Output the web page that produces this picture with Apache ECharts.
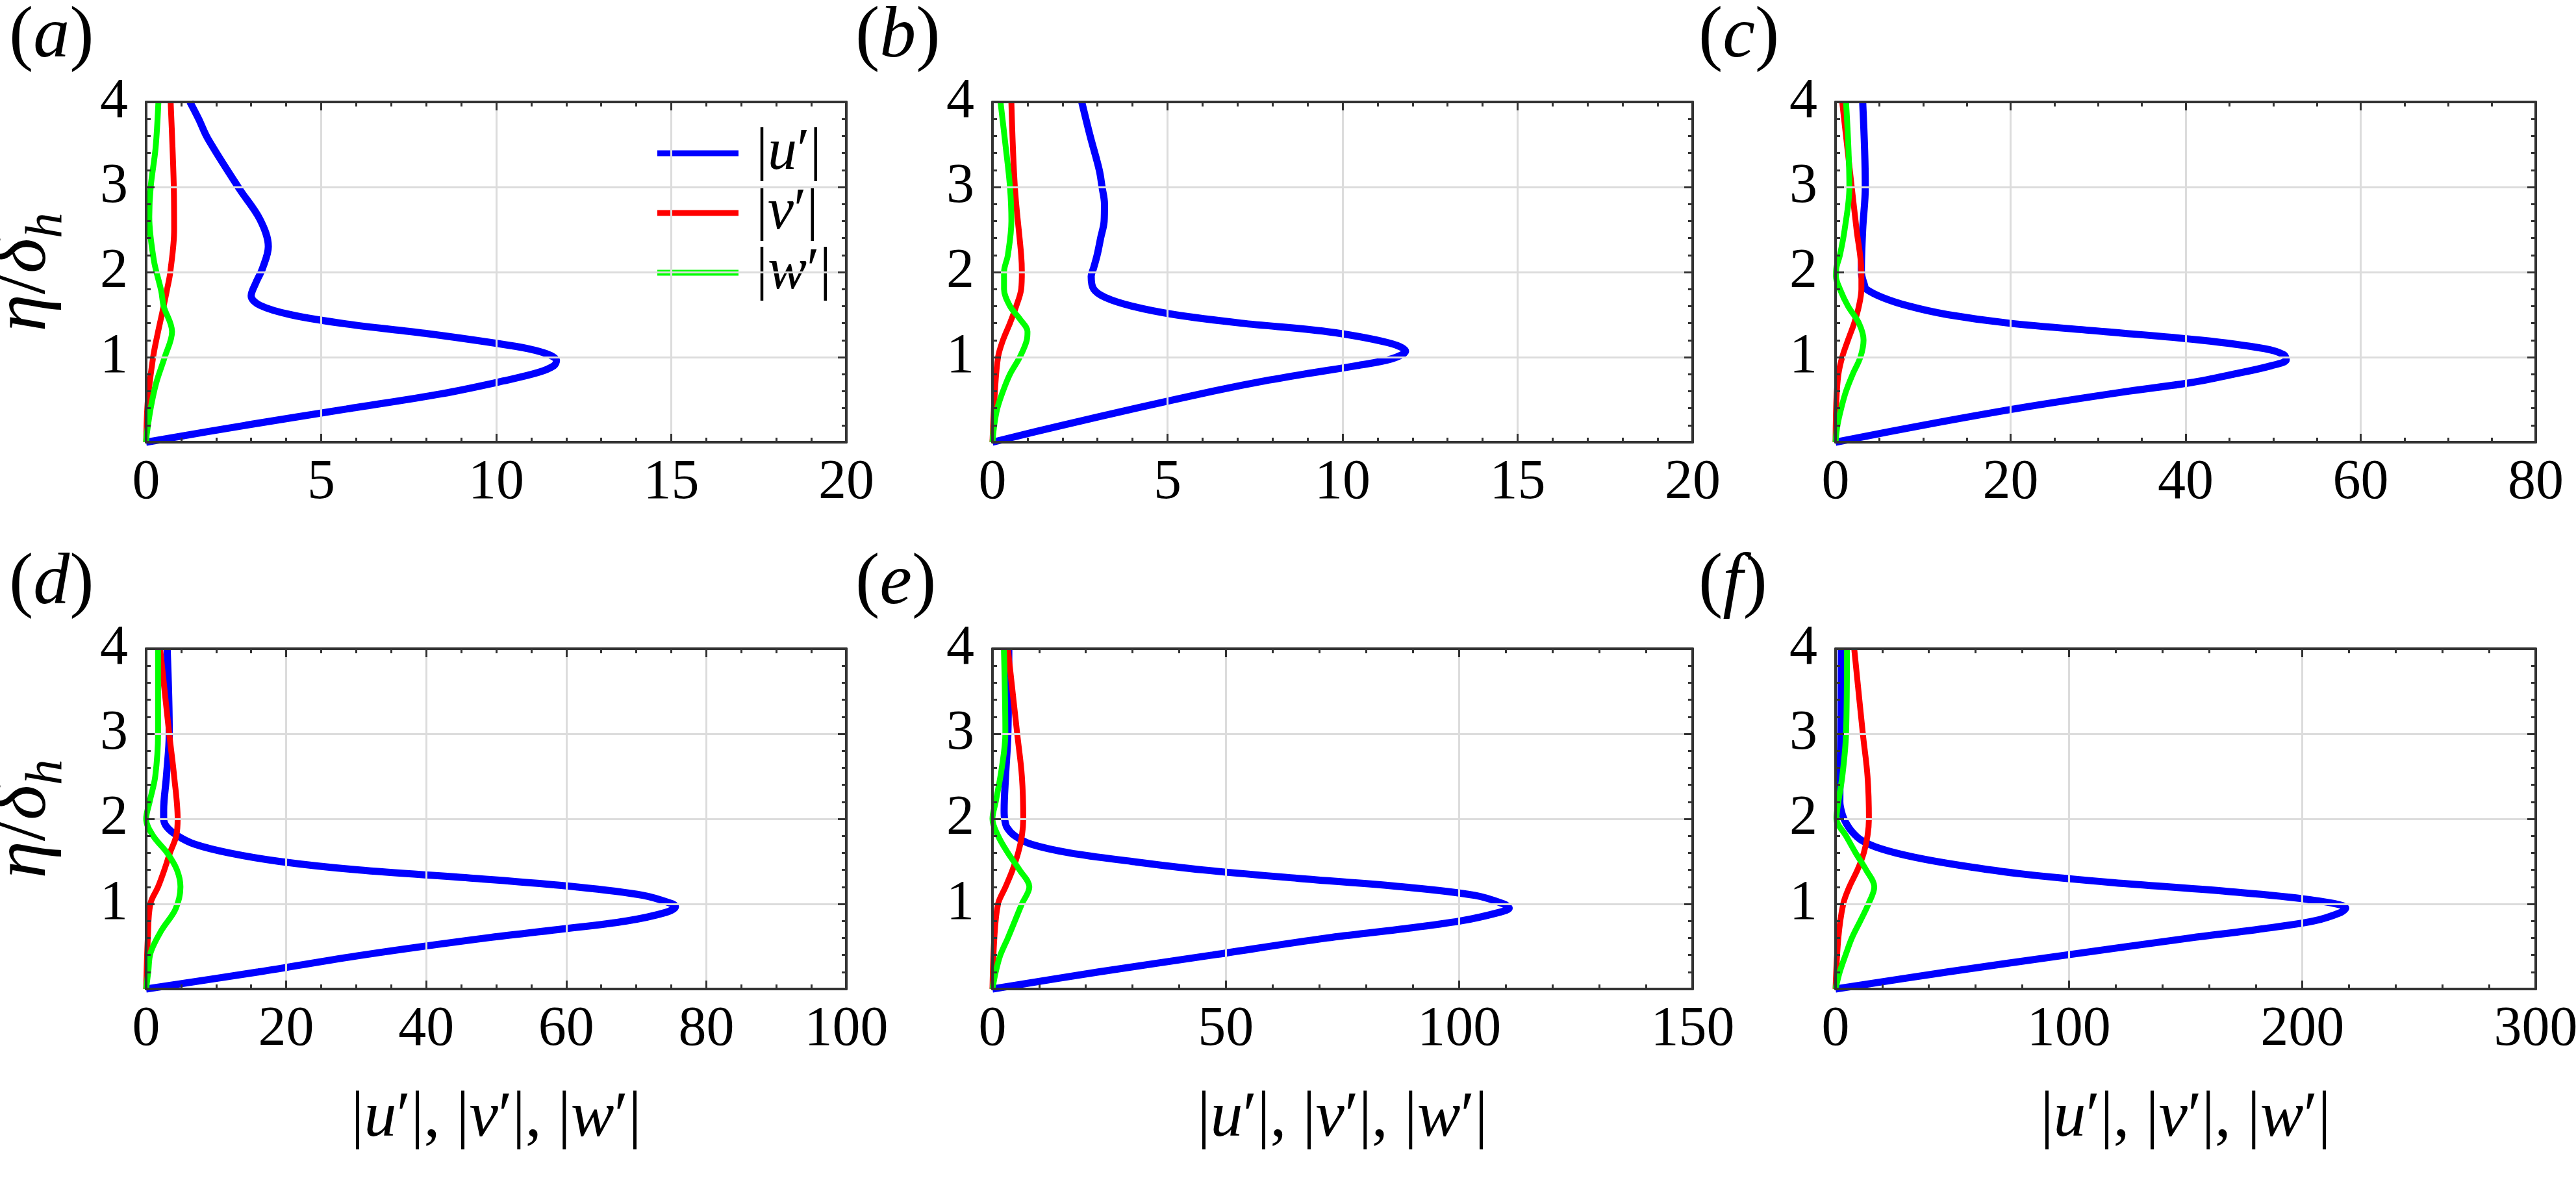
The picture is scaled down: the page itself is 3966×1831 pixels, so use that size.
<!DOCTYPE html>
<html>
<head>
<meta charset="utf-8">
<title>velocity perturbation profiles</title>
<script src="https://cdn.jsdelivr.net/npm/echarts@6/dist/echarts.min.js"></script>
<style>
    html, body { margin: 0; padding: 0; background: #fff; }
    #chart { width: 3966px; height: 1831px; }
</style>
</head>
<body>
<div id="chart"></div>
<script>
// panel settings
var panelLetters = ['a', 'b', 'c', 'd', 'e', 'f'];
var xMaxes = [20, 20, 80, 100, 150, 300];
var xSteps = [5, 5, 20, 20, 50, 100];
var xMinorSplits = [5, 5, 4, 4, 5, 5];
var etaMax = 4;
var etaStep = 1;
var seriesNames = ['u', 'v', 'w'];

// profiles, each point is [|value|, eta / delta_h]
var uA = [[0, 0], [2.85, 0.2], [5.72, 0.39], [8.44, 0.57], [10.2, 0.72], [11.2, 0.82], [11.65, 0.9], [11.72, 0.96], [11.5, 1.03], [10.9, 1.1], [10.04, 1.16], [7.96, 1.28], [5.72, 1.39], [4.12, 1.5], [3.25, 1.61], [3.0, 1.72], [3.13, 1.87], [3.33, 2.05], [3.49, 2.3], [3.25, 2.62], [2.66, 2.98], [1.76, 3.57], [1.5, 3.8], [1.25, 4]];
var vA = [[0, 0], [0.05, 0.5], [0.2, 1.0], [0.29, 1.2], [0.5, 1.6], [0.6, 1.8], [0.69, 2], [0.8, 2.5], [0.79, 3], [0.75, 3.5], [0.7, 4]];
var wA = [[0, 0], [0.02, 0.1], [0.13, 0.4], [0.29, 0.7], [0.53, 1.0], [0.74, 1.3], [0.5, 1.6], [0.43, 1.78], [0.22, 2.14], [0.09, 2.65], [0.13, 3], [0.27, 3.46], [0.35, 4]];

var uB = [[0, 0], [2.0, 0.2], [4.1, 0.4], [6.3, 0.6], [7.5, 0.7], [8.9, 0.8], [10.4, 0.9], [11.4, 0.98], [11.8, 1.07], [11.3, 1.17], [9.56, 1.3], [7.1, 1.4], [5.2, 1.5], [3.98, 1.6], [3.23, 1.7], [2.89, 1.8], [2.82, 1.95], [2.89, 2.05], [2.99, 2.2], [3.09, 2.4], [3.19, 2.6], [3.2, 2.8], [3.13, 3], [3.05, 3.2], [2.79, 3.6], [2.55, 4]];
var vB = [[0, 0], [0.07, 0.6], [0.16, 1], [0.3, 1.2], [0.5, 1.4], [0.68, 1.6], [0.82, 1.8], [0.84, 2], [0.82, 2.2], [0.64, 3], [0.54, 4]];
var wB = [[0, 0], [0.05, 0.2], [0.14, 0.4], [0.3, 0.6], [0.5, 0.8], [0.78, 1.0], [0.98, 1.2], [1.0, 1.3], [0.78, 1.45], [0.5, 1.6], [0.33, 1.8], [0.33, 2.0], [0.44, 2.2], [0.54, 2.6], [0.5, 3], [0.37, 3.5], [0.23, 4]];

var uC = [[0, 0], [10, 0.2], [20.9, 0.4], [33.5, 0.6], [40.6, 0.7], [45.5, 0.8], [49.8, 0.9], [51.5, 0.97], [51.2, 1.03], [49, 1.1], [41.7, 1.2], [30.8, 1.3], [19.8, 1.4], [12.8, 1.5], [8.4, 1.6], [5.4, 1.7], [3.5, 1.8], [3.3, 1.85], [2.95, 2], [3.1, 2.5], [3.4, 3], [3.1, 4]];
var vC = [[0, 0], [0.1, 0.5], [0.33, 0.8], [0.76, 1.0], [1.42, 1.2], [2.13, 1.4], [2.67, 1.6], [2.95, 1.8], [2.95, 2], [2.4, 2.5], [1.85, 3], [0.76, 4]];
var wC = [[0, 0], [0.22, 0.2], [0.65, 0.4], [1.2, 0.6], [1.96, 0.8], [2.84, 1.0], [3.2, 1.2], [2.67, 1.4], [1.42, 1.6], [0.5, 1.8], [0.05, 1.95], [0.1, 2.05], [0.5, 2.2], [1.04, 2.5], [1.58, 3], [1.2, 4]];

var uD = [[0, 0], [16, 0.2], [31, 0.4], [48.6, 0.6], [59, 0.7], [68.6, 0.8], [74.2, 0.9], [75.6, 0.97], [75.2, 1.0], [71, 1.1], [61.4, 1.2], [47, 1.3], [30.2, 1.4], [19, 1.5], [11.8, 1.6], [7, 1.7], [4.5, 1.8], [3, 1.9], [2.5, 2.0], [2.5, 2.1], [2.9, 2.5], [3.3, 3], [3.0, 4]];
var vD = [[0, 0], [0.24, 0.6], [0.6, 1.0], [1.7, 1.2], [2.6, 1.4], [3.4, 1.6], [4.3, 1.8], [4.5, 2], [4.0, 2.5], [3.3, 3], [2.0, 4]];
var wD = [[0, 0], [0.3, 0.2], [0.65, 0.43], [2.2, 0.69], [4.2, 0.94], [4.9, 1.2], [4.4, 1.4], [3.0, 1.6], [1.0, 1.8], [0, 2.0], [0.5, 2.2], [1.3, 2.5], [1.7, 3], [1.7, 4]];

var uE = [[0, 0], [22.7, 0.2], [47.2, 0.4], [71.7, 0.6], [87, 0.7], [100.3, 0.8], [108.5, 0.9], [110.7, 0.95], [109.5, 1.0], [103.4, 1.1], [88, 1.2], [65.6, 1.3], [45.1, 1.4], [29.8, 1.5], [16.5, 1.6], [8.4, 1.7], [4.8, 1.8], [3.1, 1.9], [2.6, 2.0], [2.5, 2.1], [2.8, 2.5], [3.3, 3], [3.5, 4]];
var vE = [[0, 0], [0.4, 0.6], [1.2, 1.0], [2.8, 1.2], [4.3, 1.4], [5.5, 1.6], [6.3, 1.8], [6.6, 2], [6.3, 2.5], [5.3, 3], [3.3, 4]];
var wE = [[0, 0], [0.7, 0.2], [1.7, 0.4], [3.3, 0.6], [4.8, 0.8], [6.3, 1.0], [7.9, 1.2], [5.8, 1.4], [3.3, 1.6], [1.2, 1.8], [0, 2.0], [0.7, 2.2], [2.0, 2.6], [2.76, 3], [2.45, 4]];

var uF = [[0, 0], [47.9, 0.2], [99, 0.4], [152, 0.6], [181, 0.7], [205, 0.8], [216.5, 0.9], [218.6, 0.95], [203, 1.05], [166.5, 1.15], [119, 1.25], [80.6, 1.35], [54, 1.45], [33.5, 1.55], [19.2, 1.65], [11, 1.75], [7, 1.85], [4.5, 1.95], [2.9, 2.05], [1.84, 2.2], [2.25, 3], [2.45, 4]];
var vF = [[0, 0], [1.2, 0.6], [3.3, 1.0], [5.9, 1.2], [9.4, 1.4], [12.1, 1.6], [13.7, 1.8], [14.3, 2.0], [13.7, 2.5], [11.7, 3], [8, 4]];
var wF = [[0, 0], [1.8, 0.2], [4.3, 0.4], [7, 0.6], [10.6, 0.8], [14.1, 1.0], [16.6, 1.2], [13.1, 1.4], [8.6, 1.6], [4.5, 1.8], [0.4, 2.0], [1.2, 2.2], [2.9, 2.5], [4.5, 3], [4.9, 4]];

var profiles = [[uA, vA, wA], [uB, vB, wB], [uC, vC, wC], [uD, vD, wD], [uE, vE, wE], [uF, vF, wF]];

var FONT = 'Liberation Serif';
var colors = ['#0000ff', '#ff0000', '#00ff00'];
var gridLefts = [225, 1528, 2826];
var gridTops = [157, 999];
var gridW = 1078;
var gridH = 524;
var axisColor = '#333333';
var splitColor = '#dcdcdc';

function textRich(size) {
    return {
        n: { fontFamily: FONT, fontSize: size, color: '#000' },
        i: { fontFamily: FONT, fontSize: size, fontStyle: 'italic', color: '#000' },
        p: { width: 22 }
    };
}

function primeLabel(letter) {
    return '{n||}{i|' + letter + '}{n|\u2032|}';
}

// 坐标轴（四边都画刻度）
function makeAxis(kind, idx, pos, showLabel, extra) {
    var isX = kind === 'x';
    var axis = {
        type: 'value',
        gridIndex: idx,
        position: pos,
        min: 0,
        max: isX ? xMaxes[idx] : etaMax,
        interval: isX ? xSteps[idx] : etaStep,
        z: 5,
        axisLine: { show: true, onZero: false, lineStyle: { color: axisColor, width: 4 } },
        axisTick: { show: true, inside: true, length: 13, lineStyle: { color: axisColor, width: 3 } },
        minorTick: { show: true, splitNumber: isX ? xMinorSplits[idx] : 5, length: 7, lineStyle: { color: axisColor, width: 3 } },
        splitLine: { show: showLabel, lineStyle: { color: splitColor, width: 3 } },
        axisLabel: {
            show: showLabel,
            fontFamily: FONT,
            fontSize: 86,
            color: '#000',
            margin: isX ? 20 : 28,
            showMinLabel: true,
            showMaxLabel: true,
            formatter: function(v) {
                if (!isX && v === 0) {
                    return '';
                }
                return String(v);
            }
        }
    };
    for (var k in extra) {
        axis[k] = extra[k];
    }
    return axis;
}

var grids = [];
var xAxes = [];
var yAxes = [];
var series = [];
var graphics = [];

for (var i = 0; i < 6; i++) {
    var row = Math.floor(i / 3);
    var col = i % 3;
    grids.push({
        left: gridLefts[col],
        top: gridTops[row],
        width: gridW,
        height: gridH,
        containLabel: false,
        outerBoundsMode: 'none',
        show: false
    });

    var xName = {};
    if (row === 1) {
        xName = {
            name: primeLabel('u') + '{n|, }' + primeLabel('v') + '{n|, }' + primeLabel('w'),
            nameLocation: 'middle',
            nameGap: 150,
            nameTextStyle: { rich: textRich(100) }
        };
    }
    xAxes.push(makeAxis('x', i, 'bottom', true, xName));
    xAxes.push(makeAxis('x', i, 'top', false, {}));

    var yName = {};
    if (col === 0) {
        yName = {
            name: '{i|\u03b7}{n|/}{i|\u03b4}{s|h}',
            nameLocation: 'middle',
            nameRotate: 90,
            nameGap: 112,
            nameTextStyle: {
                rich: {
                    n: { fontFamily: FONT, fontSize: 116, color: '#000', lineHeight: 150 },
                    i: { fontFamily: FONT, fontSize: 116, fontStyle: 'italic', color: '#000', lineHeight: 150 },
                    s: { fontFamily: FONT, fontSize: 80, fontStyle: 'italic', color: '#000', lineHeight: 80, verticalAlign: 'bottom' }
                }
            }
        };
    }
    yAxes.push(makeAxis('y', i, 'left', true, yName));
    yAxes.push(makeAxis('y', i, 'right', false, {}));

    for (var s = 0; s < 3; s++) {
        series.push({
            name: seriesNames[s],
            type: 'line',
            xAxisIndex: 2 * i,
            yAxisIndex: 2 * i,
            data: profiles[i][s],
            smooth: 0.35,
            showSymbol: false,
            clip: false,
            z: 2,
            itemStyle: { color: colors[s] },
            lineStyle: { color: colors[s], width: s === 0 ? 11 : 9 }
        });
    }

    graphics.push({
        type: 'text',
        left: 14 + gridLefts[col] - gridLefts[0],
        top: 2 + gridTops[row] - gridTops[0],
        style: {
            text: '{n|(}{i|' + panelLetters[i] + '}{n|)}',
            rich: {
                n: { fontFamily: FONT, fontSize: 112, fill: '#000' },
                i: { fontFamily: FONT, fontSize: 112, fontStyle: 'italic', fill: '#000' }
            }
        }
    });
}

var myChart = echarts.init(document.getElementById('chart'));
var option = {
    animation: false,
    backgroundColor: '#ffffff',
    textStyle: { fontFamily: FONT },
    grid: grids,
    xAxis: xAxes,
    yAxis: yAxes,
    series: series,
    graphic: graphics,
    legend: {
        data: seriesNames,
        orient: 'vertical',
        left: 1007,
        top: 186,
        icon: 'rect',
        itemWidth: 125,
        itemHeight: 9,
        itemGap: 2,
        selectedMode: false,
        formatter: function(name) {
            return '{p|}' + primeLabel(name);
        },
        textStyle: {
            fontFamily: FONT,
            lineHeight: 82,
            rich: textRich(90)
        }
    }
};
myChart.setOption(option);
</script>
</body>
</html>
